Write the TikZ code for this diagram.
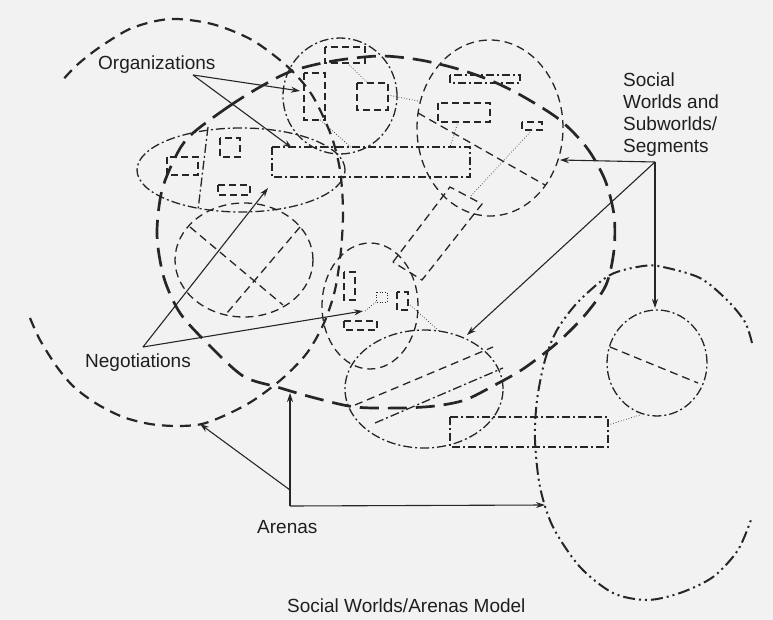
\documentclass[tikz,border=0pt]{standalone}
\usepackage{fontspec}
\setmainfont{Liberation Sans}
\usetikzlibrary{arrows.meta}
\begin{document}
\begin{tikzpicture}[x=1pt,y=-1pt,
    ink/.style={draw=black!85},
    arenaA/.style={ink,line width=2.2pt,dash pattern=on 11pt off 7pt},
    arenaB/.style={ink,line width=2.7pt,dash pattern=on 19pt off 9pt},
    arenaC/.style={ink,line width=2pt,dash pattern=on 12pt off 4pt on 2pt off 4pt on 2pt off 4pt},
    world/.style={ink,line width=1.3pt,dash pattern=on 8pt off 5pt},
    worlddot/.style={ink,line width=1.3pt,dash pattern=on 9pt off 3pt on 2pt off 3pt},
    box/.style={ink,line width=1.2pt,dash pattern=on 7pt off 4pt},
    boxdot/.style={ink,line width=1.2pt,dash pattern=on 8pt off 3pt on 2pt off 3pt},
    link/.style={ink,line width=0.7pt,dotted},
    pointer/.style={ink,line width=1.1pt,-{Stealth[length=9pt,width=6pt]}},
    lbl/.style={text=black!88,font=\fontsize{19}{22}\selectfont,inner sep=0pt}]
    \useasboundingbox (0,0) rectangle (773,620);
    \fill[black!5] (0,0) rectangle (773,620);

    \draw[arenaA] plot[smooth] coordinates {(30,318) (40,340) (57,367) (74,387) (97,404) (123,417) (150,424) (177,426) (202,424) (228,414) (254,400) (283,378) (307,353) (324,323) (335,290) (341,250) (343,210) (340,170) (331,135) (312,95) (288,67) (252,40) (212,24) (170,19) (132,28) (100,47) (77,65) (60,83)};
    \draw[arenaB] plot[smooth cycle] coordinates {(193,133) (228,107) (260,87) (292,71) (333,61) (380,56) (420,60) (458,69) (492,81) (524,97) (560,120) (587,148) (605,180) (614,215) (614,250) (606,285) (585,315) (557,343) (523,369) (493,386) (465,400) (435,406) (400,408) (355,407) (315,398) (277,387) (243,376) (207,343) (180,313) (164,278) (157,235) (162,190) (178,152)};
    \draw[arenaC] plot[smooth] coordinates {(752,343) (745,322) (727,300) (700,278) (663,267) (643,266) (610,275) (578,302) (557,330) (545,360) (537,400) (535,440) (540,487) (553,527) (580,567) (613,593) (647,600) (680,593) (713,577) (738,550) (752,517)};

    \draw[worlddot] (340,96) ellipse [x radius=57pt, y radius=58pt];
    \draw[box] (325,47) rectangle (365,63);
    \draw[box] (304,73) rectangle (325,120);
    \draw[box] (357,83) rectangle (388,110);

    \draw[world] (490,128) ellipse [x radius=73pt, y radius=88pt];
    \draw[boxdot] (450,75) rectangle (520,83);
    \draw[box] (438,103) rectangle (490,122);
    \draw[box] (522,122) rectangle (542,130);
    \draw[world] (418,113) -- (545,185);

    \draw[worlddot] (241,170) ellipse [x radius=104pt, y radius=42pt];
    \draw[box] (167,157) rectangle (198,175);
    \draw[box] (220,138) rectangle (240,157);
    \draw[box] (218,185) rectangle (250,195);
    \draw[worlddot] (208,127) -- (198,210);
    \draw[boxdot] (272,147) rectangle (470,177);

    \draw[world] (244,260) ellipse [x radius=69pt, y radius=57pt];
    \draw[world] (190,227) -- (283,305);
    \draw[world] (300,227) -- (227,313);

    \draw[world] (370,306) ellipse [x radius=48pt, y radius=63pt];
    \draw[box] (344,272) rectangle (355,300);
    \draw[link,line width=1pt] (376,292) rectangle (387,302);
    \draw[box] (397,292) rectangle (408,310);
    \draw[box] (344,321) rectangle (377,330);
    \draw[world] (393,262) -- (450,187) -- (482,204) -- (422,280) -- cycle;

    \draw[worlddot] (424,389) ellipse [x radius=79pt, y radius=59pt];
    \draw[world] (355,405) -- (493,347);
    \draw[worlddot] (375,423) -- (503,368);

    \draw[worlddot] (657,363) ellipse [x radius=50pt, y radius=53pt];
    \draw[world] (610,347) -- (698,383);
    \draw[boxdot] (450,417) rectangle (608,447);

    \draw[link] (347,63) -- (368,83);
    \draw[link] (320,120) -- (352,148);
    \draw[link] (388,95) -- (418,101);
    \draw[link] (458,122) -- (450,147);
    \draw[link] (532,130) -- (470,197);
    \draw[link] (376,302) -- (365,311);
    \draw[link] (410,305) -- (440,332);
    \draw[link] (608,425) -- (640,415);

    \node[lbl,anchor=base west] (organizations) at (98,70) {Organizations};
    \node[lbl,anchor=north west,align=left] (worlds) at (623,73) {Social\\Worlds and\\Subworlds/\\Segments};
    \node[lbl,anchor=base west] (negotiations) at (85,367) {Negotiations};
    \node[lbl,anchor=base west] (arenas) at (257,533) {Arenas};
    \node[lbl,anchor=base west] (model) at (287,612) {Social Worlds/Arenas Model};

    \coordinate (orgfork) at (193,75);
    \coordinate (orgA) at (300,91);
    \coordinate (orgB) at (292,148);
    \draw[pointer] (orgfork) -- (orgA);
    \draw[pointer] (orgfork) -- (orgB);

    \coordinate (swfork) at (655,162);
    \coordinate (swA) at (560,160);
    \coordinate (swB) at (655,308);
    \coordinate (swC) at (467,335);
    \draw[pointer] (swfork) -- (swA);
    \draw[pointer] (swfork) -- (swB);
    \draw[pointer] (swfork) -- (swC);

    \coordinate (negfork) at (143,347);
    \coordinate (negA) at (268,188);
    \coordinate (negB) at (363,311);
    \draw[pointer] (negfork) -- (negA);
    \draw[pointer] (negfork) -- (negB);

    \coordinate (arfork) at (290,506);
    \coordinate (arbend) at (290,490);
    \coordinate (arA) at (200,424);
    \coordinate (arB) at (290,393);
    \coordinate (arC) at (545,505);
    \draw[pointer] (arfork) -- (arB);
    \draw[pointer] (arbend) -- (arA);
    \draw[pointer] (arfork) -- (arC);
\end{tikzpicture}
\end{document}
